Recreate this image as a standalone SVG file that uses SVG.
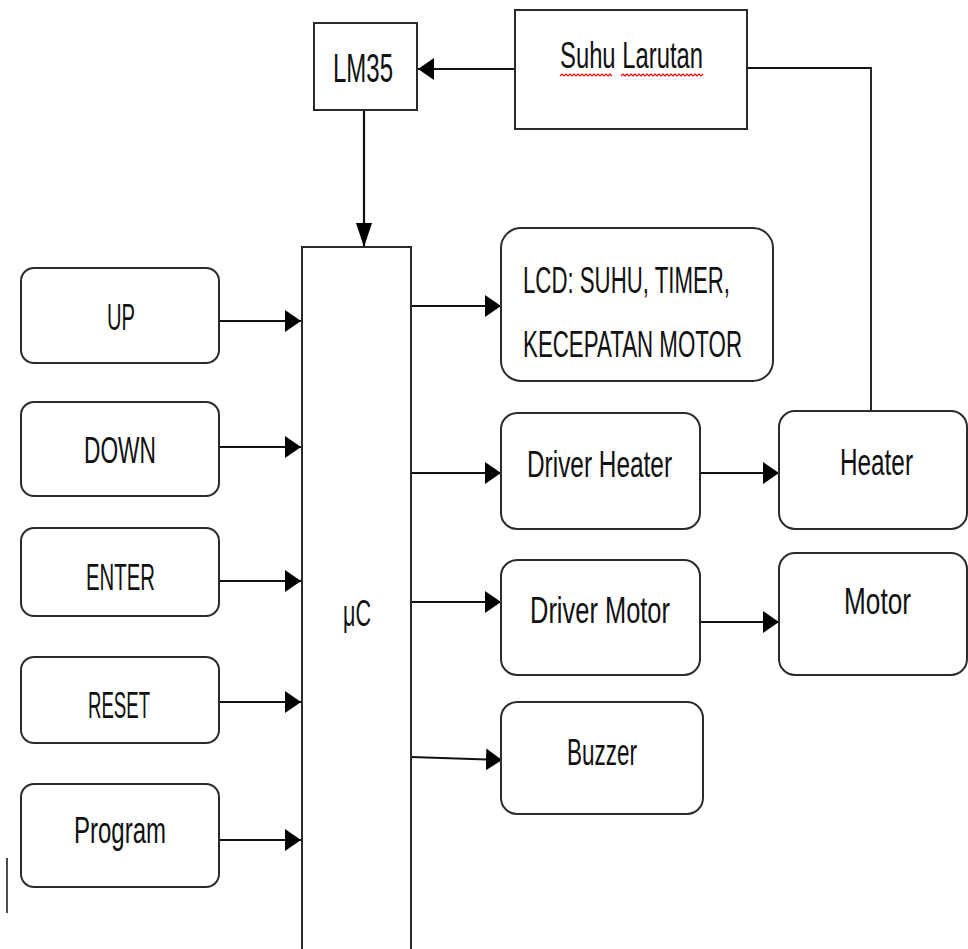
<svg xmlns="http://www.w3.org/2000/svg" width="968" height="949" viewBox="0 0 968 949">
<style>
.box{fill:#fff;stroke:#2b2b2b;stroke-width:2}
.lbl{font-family:"Liberation Sans",Arial,sans-serif;font-size:37px;fill:#111}
.con{stroke:#111;stroke-width:2.2;fill:none}
.sq{stroke:#e00;stroke-width:1.2;fill:none}
</style>
<defs>
<marker id="ah" markerUnits="userSpaceOnUse" markerWidth="16" markerHeight="22" refX="16" refY="11" orient="auto">
<path d="M0,0 L16,11 L0,22 z" fill="#000"/>
</marker>
<marker id="ahd" markerUnits="userSpaceOnUse" markerWidth="24" markerHeight="16" refX="24" refY="8" orient="auto">
<path d="M0,0 L24,8 L0,16 z" fill="#000"/>
</marker>
</defs>
<rect width="968" height="949" fill="#fff"/>

<g id="connectors">
<line class="con" x1="515" y1="69" x2="418" y2="69" marker-end="url(#ah)"/>
<polyline class="con" points="747,68 871,68 871,411" style="stroke-width:1.8"/>
<line class="con" x1="364" y1="110" x2="364" y2="247" marker-end="url(#ahd)"/>
<line class="con" x1="220" y1="321" x2="301" y2="321" marker-end="url(#ah)"/>
<line class="con" x1="220" y1="447" x2="301" y2="447" marker-end="url(#ah)"/>
<line class="con" x1="220" y1="581" x2="301" y2="581" marker-end="url(#ah)"/>
<line class="con" x1="220" y1="702" x2="301" y2="702" marker-end="url(#ah)"/>
<line class="con" x1="220" y1="840" x2="301" y2="840" marker-end="url(#ah)"/>
<line class="con" x1="411" y1="306" x2="501" y2="306" marker-end="url(#ah)"/>
<line class="con" x1="411" y1="473" x2="501" y2="473" marker-end="url(#ah)"/>
<line class="con" x1="411" y1="602" x2="501" y2="602" marker-end="url(#ah)"/>
<line class="con" x1="411" y1="757" x2="502" y2="760" marker-end="url(#ah)"/>
<line class="con" x1="700" y1="473" x2="779" y2="473" marker-end="url(#ah)"/>
<line class="con" x1="700" y1="622" x2="779" y2="622" marker-end="url(#ah)"/>
</g>

<g id="lm35">
<rect class="box" x="314" y="23" width="103" height="87"/>
<text class="lbl" x="333" y="82" textLength="60" lengthAdjust="spacingAndGlyphs" style="font-size:41px">LM35</text>
</g>

<g id="suhu-larutan">
<rect class="box" x="515" y="10" width="232" height="119"/>
<text class="lbl" x="560" y="68" textLength="143" lengthAdjust="spacingAndGlyphs">Suhu Larutan</text>
<path class="sq" d="M560,76 l2,-2 l2,2 l2,-2 l2,2 l2,-2 l2,2 l2,-2 l2,2 l2,-2 l2,2 l2,-2 l2,2 l2,-2 l2,2 l2,-2 l2,2 l2,-2 l2,2 l2,-2 l2,2 l2,-2 l2,2 l2,-2 l2,2 l2,-2 l2,2"/>
<path class="sq" d="M621,76 l2,-2 l2,2 l2,-2 l2,2 l2,-2 l2,2 l2,-2 l2,2 l2,-2 l2,2 l2,-2 l2,2 l2,-2 l2,2 l2,-2 l2,2 l2,-2 l2,2 l2,-2 l2,2 l2,-2 l2,2 l2,-2 l2,2 l2,-2 l2,2 l2,-2 l2,2 l2,-2 l2,2 l2,-2 l2,2 l2,-2 l2,2 l2,-2 l2,2 l2,-2 l2,2 l2,-2 l2,2 l2,-2"/>
</g>

<g id="uc">
<rect class="box" x="302" y="247" width="109" height="740"/>
<text class="lbl" x="343" y="626" textLength="28" lengthAdjust="spacingAndGlyphs">μC</text>
</g>

<g id="up">
<rect class="box" x="21" y="268" width="198" height="95" rx="13"/>
<text class="lbl" x="107" y="330" textLength="28" lengthAdjust="spacingAndGlyphs">UP</text>
</g>
<g id="down">
<rect class="box" x="21" y="402" width="198" height="94" rx="13"/>
<text class="lbl" x="84" y="463" textLength="72" lengthAdjust="spacingAndGlyphs">DOWN</text>
</g>
<g id="enter">
<rect class="box" x="21" y="528" width="198" height="88" rx="13"/>
<text class="lbl" x="86" y="590" textLength="69" lengthAdjust="spacingAndGlyphs">ENTER</text>
</g>
<g id="reset">
<rect class="box" x="21" y="657" width="198" height="86" rx="13"/>
<text class="lbl" x="88" y="718" textLength="62" lengthAdjust="spacingAndGlyphs">RESET</text>
</g>
<g id="program">
<rect class="box" x="21" y="784" width="198" height="103" rx="13"/>
<text class="lbl" x="74" y="843" textLength="92" lengthAdjust="spacingAndGlyphs">Program</text>
</g>

<g id="lcd">
<rect class="box" x="501" y="228" width="272" height="153" rx="20"/>
<text class="lbl" x="523" y="293" textLength="207" lengthAdjust="spacingAndGlyphs">LCD: SUHU, TIMER,</text>
<text class="lbl" x="523" y="357" textLength="219" lengthAdjust="spacingAndGlyphs">KECEPATAN MOTOR</text>
</g>
<g id="driver-heater">
<rect class="box" x="501" y="413" width="199" height="116" rx="16"/>
<text class="lbl" x="527" y="477" textLength="145" lengthAdjust="spacingAndGlyphs">Driver Heater</text>
</g>
<g id="heater">
<rect class="box" x="779" y="411" width="188" height="118" rx="16"/>
<text class="lbl" x="840" y="475" textLength="73" lengthAdjust="spacingAndGlyphs">Heater</text>
</g>
<g id="driver-motor">
<rect class="box" x="501" y="560" width="199" height="115" rx="16"/>
<text class="lbl" x="530" y="623" textLength="140" lengthAdjust="spacingAndGlyphs">Driver Motor</text>
</g>
<g id="motor">
<rect class="box" x="779" y="553" width="188" height="122" rx="16"/>
<text class="lbl" x="844" y="614" textLength="67" lengthAdjust="spacingAndGlyphs">Motor</text>
</g>
<g id="buzzer">
<rect class="box" x="501" y="702" width="202" height="112" rx="16"/>
<text class="lbl" x="567" y="765" textLength="70" lengthAdjust="spacingAndGlyphs">Buzzer</text>
</g>

<line x1="7" y1="858" x2="7" y2="913" stroke="#111" stroke-width="1.5"/>
</svg>
